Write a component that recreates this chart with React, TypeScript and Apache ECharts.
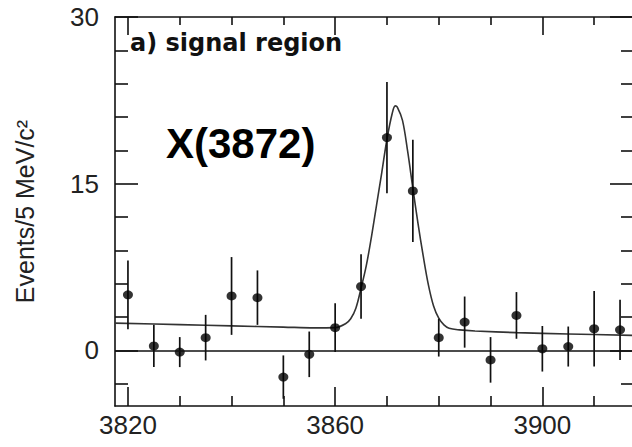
import React, { useEffect, useRef } from "react";
import * as echarts from "echarts";

// Data
const massBins = [3820, 3825, 3830, 3835, 3840, 3845, 3850, 3855, 3860, 3865, 3870, 3875, 3880, 3885, 3890, 3895, 3900, 3905, 3910, 3915];
const events = [5.0, 0.4, -0.15, 1.15, 4.9, 4.75, -2.4, -0.35, 2.05, 5.75, 19.15, 14.35, 1.15, 2.55, -0.85, 3.15, 0.15, 0.35, 1.95, 1.85];
const eventErrors = [3.1, 1.9, 1.35, 2.05, 3.5, 2.45, 1.95, 2.05, 2.2, 2.9, 5.0, 4.6, 1.7, 2.3, 2.05, 2.1, 2.05, 1.8, 3.4, 2.7];

const fitMass = [3817.5, 3830, 3840, 3850, 3856, 3860, 3862, 3863, 3864, 3865, 3866, 3867, 3868, 3869, 3870, 3871, 3871.6, 3872, 3873, 3874, 3875, 3876, 3877, 3878, 3879, 3880, 3881, 3882, 3884, 3887, 3895, 3905, 3917.5];
const fitEvents = [2.46, 2.32, 2.21, 2.1, 2.03, 2.05, 2.4, 2.85, 3.8, 5.6, 7.6, 10.2, 13.1, 16.0, 19.0, 21.3, 22.0, 21.9, 20.7, 17.9, 14.6, 11.4, 8.5, 5.9, 4.0, 2.9, 2.3, 2.0, 1.85, 1.75, 1.6, 1.48, 1.35];

const xMajorTicks = [3820, 3860, 3900];
const xMinorTicks = [3830, 3840, 3850, 3870, 3880, 3890, 3910];
const yMajorTicks = [0, 15, 30];
const yMinorTicks = [-3, 3, 6, 9, 12, 18, 21, 24, 27];

const X_MIN = 3817.5;
const X_MAX = 3917.5;
const Y_MIN = -5;
const Y_MAX = 30;

export default function App() {
  const ref = useRef<HTMLDivElement>(null);

  useEffect(() => {
    if (!ref.current) return;
    const chart = echarts.init(ref.current, undefined, { renderer: "svg" });
    const black = "#111";
    const labelFont = { fontFamily: "Liberation Sans, Arial, sans-serif", fontSize: 26, color: "#222" };

    const xBase = (position: string, ticks: number[], len: number, labels: boolean, line: boolean) => ({
      type: "value",
      position,
      min: X_MIN,
      max: X_MAX,
      axisLine: { show: line, onZero: false, lineStyle: { color: black, width: 1.6 } },
      axisTick: { show: true, inside: true, length: len, customValues: ticks, lineStyle: { color: black, width: 1.6 } },
      axisLabel: labels
        ? { show: true, customValues: ticks, margin: 6, formatter: (v: number) => String(v), ...labelFont }
        : { show: false },
      splitLine: { show: false },
    });
    const yBase = (position: string, ticks: number[], len: number, labels: boolean, line: boolean) => ({
      type: "value",
      position,
      min: Y_MIN,
      max: Y_MAX,
      axisLine: { show: line, onZero: false, lineStyle: { color: black, width: 1.6 } },
      axisTick: { show: true, inside: true, length: len, customValues: ticks, lineStyle: { color: black, width: 1.6 } },
      axisLabel: labels
        ? { show: true, customValues: ticks, margin: 16, formatter: (v: number) => String(v), ...labelFont }
        : { show: false },
      splitLine: { show: false },
    });

    const yMain: any = yBase("left", yMajorTicks, 23, true, true);
    yMain.name = "Events/5 MeV/c²";
    yMain.nameLocation = "middle";
    yMain.nameGap = 78;
    yMain.nameTextStyle = { fontFamily: "Liberation Sans, Arial, sans-serif", fontSize: 25, color: "#222" };

    const option: any = {
      animation: false,
      backgroundColor: "#ffffff",
      grid: { left: 115, top: 17, right: -1, bottom: 41, outerBoundsMode: "none", containLabel: false },
      xAxis: [
        xBase("bottom", xMajorTicks, 19, true, true),
        xBase("bottom", xMinorTicks, 10, false, false),
        xBase("top", xMajorTicks, 18, false, true),
        xBase("top", xMinorTicks, 8, false, false),
      ],
      yAxis: [
        yMain,
        yBase("left", yMinorTicks, 13, false, false),
        yBase("right", yMajorTicks, 23, false, true),
        yBase("right", yMinorTicks, 12, false, false),
      ],
      graphic: [
        {
          type: "text",
          left: 130,
          top: 31,
          style: {
            text: "a) signal region",
            fontFamily: "DejaVu Sans, sans-serif",
            fontWeight: "bold",
            fontSize: 24,
            fill: "#111",
          },
        },
        {
          type: "text",
          left: 166,
          top: 122,
          style: {
            text: "X(3872)",
            fontFamily: "Liberation Sans, Arial, sans-serif",
            fontWeight: "bold",
            fontSize: 42,
            fill: "#000",
          },
        },
      ],
      series: [
        {
          type: "line",
          xAxisIndex: 0,
          yAxisIndex: 0,
          data: fitMass.map((m, i) => [m, fitEvents[i]]),
          smooth: 0.35,
          showSymbol: false,
          symbol: "none",
          lineStyle: { color: "#333", width: 1.6 },
          markLine: {
            silent: true,
            symbol: "none",
            label: { show: false },
            lineStyle: { color: black, width: 1.6, type: "solid" },
            data: [{ yAxis: 0 }],
          },
          z: 2,
        },
        {
          type: "custom",
          xAxisIndex: 0,
          yAxisIndex: 0,
          data: massBins.map((m, i) => [m, events[i], eventErrors[i]]),
          renderItem: (params: any, api: any) => {
            const x = api.value(0);
            const y = api.value(1);
            const e = api.value(2);
            const p1 = api.coord([x, y - e]);
            const p2 = api.coord([x, y + e]);
            return {
              type: "line",
              shape: { x1: p1[0], y1: p1[1], x2: p2[0], y2: p2[1] },
              style: { stroke: black, lineWidth: 1.7 },
            };
          },
          z: 3,
        },
        {
          type: "scatter",
          xAxisIndex: 0,
          yAxisIndex: 0,
          data: massBins.map((m, i) => [m, events[i]]),
          symbol: "circle",
          symbolSize: [10, 9],
          itemStyle: { color: "#000" },
          z: 4,
        },
      ],
    };
    chart.setOption(option);
    return () => chart.dispose();
  }, []);

  return (
    <div
      ref={ref}
      style={{ position: "absolute", left: 0, top: 0, width: 632, height: 447, background: "#fff" }}
    />
  );
}
